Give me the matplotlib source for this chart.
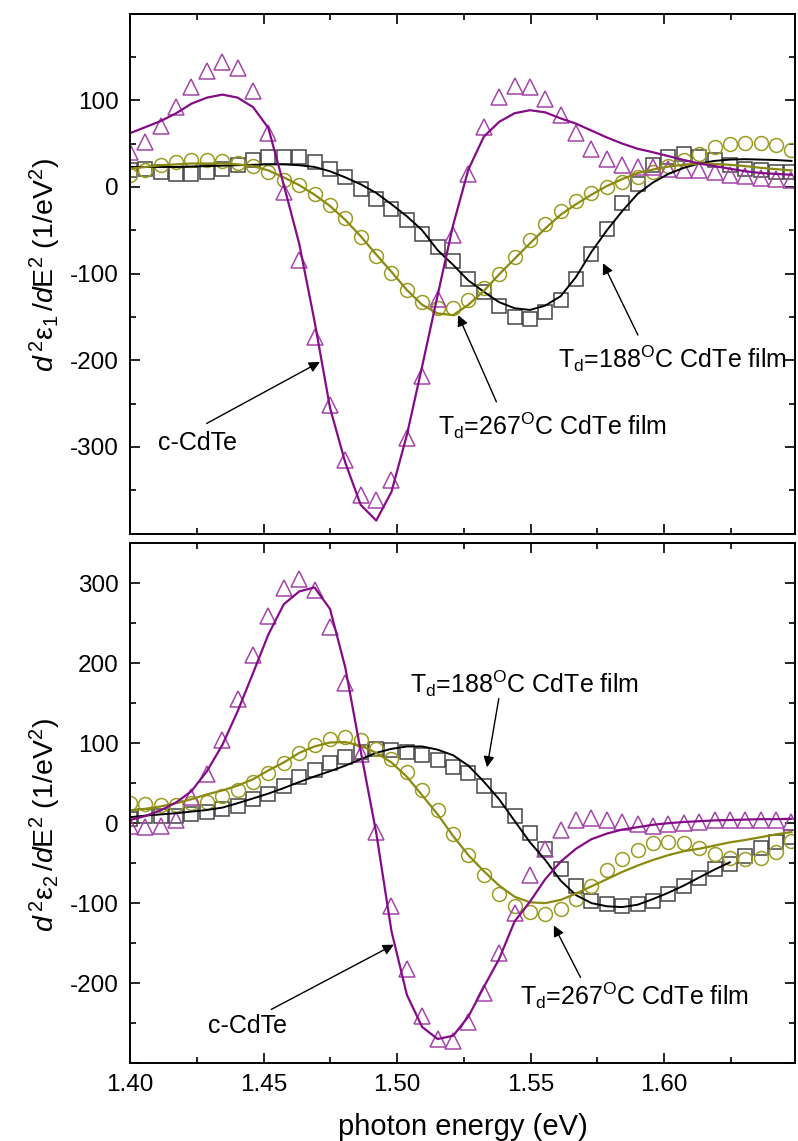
import matplotlib
matplotlib.use("Agg")
import matplotlib.pyplot as plt
from matplotlib.ticker import MultipleLocator, FixedLocator

plt.rcParams['font.family'] = 'Liberation Sans'
plt.rcParams['mathtext.fontset'] = 'custom'
plt.rcParams['mathtext.rm'] = 'Liberation Sans'
plt.rcParams['mathtext.it'] = 'Liberation Sans:italic'

# photon energy grid (eV)
energy = [1.4000, 1.4058, 1.4115, 1.4173, 1.4230, 1.4288, 1.4346, 1.4403, 1.4461, 1.4518,
          1.4576, 1.4634, 1.4691, 1.4749, 1.4806, 1.4864, 1.4922, 1.4979, 1.5037, 1.5094,
          1.5152, 1.5210, 1.5267, 1.5325, 1.5382, 1.5440, 1.5498, 1.5555, 1.5613, 1.5670,
          1.5728, 1.5786, 1.5843, 1.5901, 1.5958, 1.6016, 1.6074, 1.6131, 1.6189, 1.6246,
          1.6304, 1.6362, 1.6419, 1.6477]

# d2 eps1 / dE2 : measured points
e1_cryst = [40, 52, 70, 92, 115, 134, 144, 137, 111, 62, -6, -84, -173, -252, -315, -356,
            -361, -338, -290, -218, -129, -56, 15, 69, 104, 117, 115, 101, 83, 62, 44, 32,
            25, 23, 23, 21, 19, 19, 17, 14, 12, 10, 9, 8]
e1_188 = [19, 21, 17, 15, 15, 17, 21, 25, 31, 35, 35, 35, 29, 21, 11.5, -2, -14, -26, -38,
          -54, -69, -86, -106, -121, -138, -150, -152, -144, -131, -106, -78, -49, -19, 3,
          25, 35, 38, 35, 31, 25, 21, 19, 17, 17]
e1_267 = [13.5, 19, 25, 29, 31.5, 31.5, 30, 27, 24, 17, 8.5, 2, -8, -21, -36, -58, -80, -99,
          -119, -133, -140, -140, -131, -117, -100, -81, -61, -43, -28, -16, -7, 0, 6, 11.5,
          17, 24, 31.5, 38.5, 46, 50, 51, 51, 48, 42]
# d2 eps1 / dE2 : model fits
e1_cryst_fit = [62, 69, 76, 85, 96, 103, 106.5, 103, 92, 68, 2, -66, -155, -255, -318, -367,
                -385, -352, -286, -207, -125, -44, 20, 58, 75, 85, 88.5, 86, 79, 73, 65, 57,
                50, 44, 40, 35.5, 31, 27, 24, 21, 18, 16, 15, 14]
e1_188_fit = [23, 23, 23, 23, 23.5, 24, 24.5, 25, 25.5, 26, 26, 25, 23, 18, 11, 3, -7, -20,
              -34, -50, -73, -90, -108, -121, -133, -140, -142, -137, -126, -104, -75, -50,
              -28, -8, 5, 15, 22, 27, 30, 31.5, 32, 31.5, 31, 30]
e1_267_fit = [21, 23, 25, 26, 27, 27, 27, 26, 24, 19, 11, 2, -9, -22, -38, -57, -78, -98, -119,
              -136, -146, -148, -136, -120, -101, -83, -65, -48, -32, -20, -9, 1, 9, 16, 20,
              23.5, 25.5, 27, 26.5, 25.5, 24, 22, 20.5, 19]

# d2 eps2 / dE2 : measured points
e2_cryst = [-3, -5, -3, 4, 33, 61, 104, 156, 210, 259, 294, 305, 292, 246, 175, 87, -11,
            -103, -182, -241, -270, -272, -249, -212, -162, -112, -65, -32, -8, 3.5, 6.5, 4,
            1.5, -1.5, -3, -1.5, 0, 2, 3.5, 4, 4, 4, 3.5, 1.5]
e2_188 = [5, 9.5, 9.5, 9.5, 11.5, 14, 18, 22, 30, 37, 47, 58, 66, 75, 83, 89, 93, 91, 89, 85,
          79, 70, 63, 47, 28.5, 9.5, -12, -32, -57, -78, -97, -101, -103, -101, -97, -88,
          -78, -68, -57, -51, -41, -31, -24, -17.5]
e2_267 = [25, 24.5, 23, 23, 25, 27, 34, 42, 52, 63, 75, 88, 98, 105, 108, 104, 93, 80, 64,
          41, 17, -14, -40, -65, -88, -103, -111, -113, -107, -95, -79, -59, -45, -33, -25,
          -24, -25, -31, -38, -43, -45, -43, -36, -22]
# d2 eps2 / dE2 : model fits (188 C fit stops at 1.625 eV)
e2_cryst_fit = [4, 9, 16, 26, 40, 65, 98, 140, 188, 236, 274, 290, 295, 268, 195, 90, -12,
                -135, -215, -255, -270, -266, -242, -205, -170, -123, -98, -70, -48, -32, -20,
                -13, -8, -5, -2, 0, 1.5, 2.5, 3.5, 4, 4.5, 5, 5, 5.5]
e2_188_fit = [7.5, 9.5, 11, 12.5, 14.5, 16.5, 19.5, 25, 31, 37, 44, 51.5, 58.5, 65, 72, 80,
              88, 93, 96, 96, 92, 85, 72, 52, 30, 3, -24, -46, -72, -90, -100, -104, -105,
              -102, -95, -87, -78, -68, -58, -49]
e2_267_fit = [16, 18, 21, 25, 30, 36, 41, 47, 55, 66, 76, 88, 96, 101, 101.5, 97, 88, 76, 58,
              35, 11, -16, -40, -60, -78, -92, -99, -100, -96, -88, -79, -70, -61, -53, -46,
              -40, -35, -32, -28, -24, -21, -17.5, -14, -11]

purple_pts = '#a445a8'
purple_line = '#840c88'
olive_pts = '#9c9c22'
olive_line = '#8a8a10'
gray_pts = '#454545'

fig = plt.figure(figsize=(7.98, 11.41), dpi=100)
ax1 = fig.add_axes([0.1629, 0.5324, 0.8333, 0.4557])
ax2 = fig.add_axes([0.1629, 0.0684, 0.8333, 0.4553])


def draw_panel(ax, cryst, f188, f267, cryst_fit, f188_fit, f267_fit):
    mk = dict(linestyle='none', markerfacecolor='none', markeredgewidth=1.1)
    ax.plot(energy, f188, marker='s', markersize=9.5, markeredgecolor=gray_pts, **mk)
    ax.plot(energy, f267, marker='o', markersize=10, markeredgecolor=olive_pts, **mk)
    ax.plot(energy, cryst, marker='^', markersize=11, markeredgecolor=purple_pts, **mk)
    ax.plot(energy[:len(f188_fit)], f188_fit, color='black', lw=1.4)
    ax.plot(energy, f267_fit, color=olive_line, lw=1.6)
    ax.plot(energy, cryst_fit, color=purple_line, lw=1.6)
    ax.set_xlim(1.40, 1.649)
    ax.xaxis.set_major_locator(MultipleLocator(0.05))
    ax.xaxis.set_minor_locator(MultipleLocator(0.025))
    ax.yaxis.set_minor_locator(MultipleLocator(50))
    ax.tick_params(which='both', direction='in', top=True, right=True, width=1.2,
                   labelsize=17.5, pad=8)
    ax.tick_params(which='major', length=7)
    ax.tick_params(which='minor', length=4)
    for s in ax.spines.values():
        s.set_linewidth(1.4)


def note(ax, text, tx, ty, tail, head):
    ax.text(tx, ty, text, fontsize=18, ha='left', va='center')
    ax.annotate('', xy=head, xytext=tail,
                arrowprops=dict(arrowstyle='-|>', color='black', lw=1.0,
                                mutation_scale=16, shrinkA=0, shrinkB=0))


t188 = r'T$_\mathregular{d}$=188$^\mathregular{O}$C CdTe film'
t267 = r'T$_\mathregular{d}$=267$^\mathregular{O}$C CdTe film'

draw_panel(ax1, e1_cryst, e1_188, e1_267, e1_cryst_fit, e1_188_fit, e1_267_fit)
ax1.set_ylim(-400, 200)
ax1.yaxis.set_major_locator(FixedLocator([-400, -300, -200, -100, 0, 100, 200]))
ax1.set_yticklabels(['', '-300', '-200', '-100', '0', '100', ''])
ax1.set_xticklabels([])
ax1.set_ylabel(r'$\mathit{d}^{\,2}\mathregular{ε}_\mathregular{1}\,/\mathit{d}\mathregular{E}^\mathregular{2}$ (1/eV$^\mathregular{2}$)',
               fontsize=20.5)
ax1.yaxis.set_label_coords(-0.10, 0.516)
note(ax1, 'c-CdTe', 1.4105, -296, (1.4287, -273), (1.4711, -202))
note(ax1, t267, 1.5153, -275, (1.5372, -248), (1.5229, -148))
note(ax1, t188, 1.5602, -198, (1.5902, -171), (1.5771, -88))

draw_panel(ax2, e2_cryst, e2_188, e2_267, e2_cryst_fit, e2_188_fit, e2_267_fit)
ax2.set_ylim(-300, 350)
ax2.yaxis.set_major_locator(FixedLocator([-300, -200, -100, 0, 100, 200, 300]))
ax2.set_yticklabels(['', '-200', '-100', '0', '100', '200', '300'])
ax2.set_xticks([1.40, 1.45, 1.50, 1.55, 1.60])
ax2.set_xticklabels(['1.40', '1.45', '1.50', '1.55', '1.60'])
ax2.set_ylabel(r'$\mathit{d}^{\,2}\mathregular{ε}_\mathregular{2}\,/\mathit{d}\mathregular{E}^\mathregular{2}$ (1/eV$^\mathregular{2}$)',
               fontsize=20.5)
ax2.yaxis.set_label_coords(-0.10, 0.458)
ax2.set_xlabel('photon energy (eV)', fontsize=21, labelpad=12)
note(ax2, t188, 1.5048, 175, (1.5381, 156), (1.5337, 70))
note(ax2, t267, 1.5462, -216, (1.5687, -193), (1.5587, -128))
note(ax2, 'c-CdTe', 1.4292, -254, (1.4529, -233), (1.4988, -152))

fig.savefig('out.png', dpi=100)
